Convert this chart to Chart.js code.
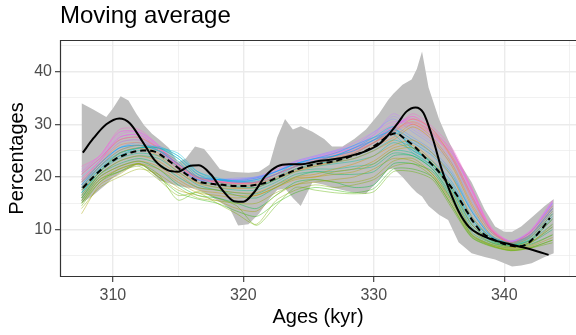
<!DOCTYPE html>
<html>
<head>
<meta charset="utf-8">
<script src="https://cdn.jsdelivr.net/npm/chart.js@4"></script>
<style>
  html, body { margin: 0; padding: 0; background: #ffffff; }
  #wrap { width: 576px; height: 335px; }
</style>
</head>
<body>
<div id="wrap"><canvas id="chart" width="576" height="335"></canvas></div>
<script>
// Sample ages (kyr) shared by every individual moving-average run
const ages = [307.6, 309, 310.5, 312, 313.5, 315, 316.5, 318, 319.5, 321, 322.5, 324, 325.5,
              327, 328.5, 330, 331.5, 333, 334.5, 336, 337.5, 339, 340.5, 342, 343.7];

// Individual runs (percentages), one array per run
const runs = [
  [20.5, 23.5, 27.0, 27.5, 25.5, 22.5, 20.0, 19.2, 18.8, 19.0, 20.5, 22.0, 23.0, 23.8, 24.5, 26.5, 29.0, 30.5, 28.5, 24.0, 16.5, 10.0, 7.6, 9.0, 14.0],
  [19.0, 22.5, 26.0, 26.5, 25.0, 22.0, 19.8, 19.0, 18.5, 18.8, 20.0, 21.5, 22.5, 23.5, 24.5, 26.5, 28.5, 31.0, 29.0, 23.5, 16.0, 9.8, 7.5, 9.5, 14.5],
  [18.0, 22.0, 25.0, 26.0, 24.5, 21.5, 19.0, 18.5, 18.0, 18.5, 19.8, 21.2, 22.2, 23.0, 24.0, 25.8, 27.5, 30.0, 27.5, 22.5, 15.0, 9.5, 7.4, 8.8, 13.5],
  [17.5, 21.0, 24.5, 25.5, 24.0, 21.0, 18.8, 18.0, 17.8, 18.0, 19.5, 21.0, 22.0, 22.8, 23.5, 25.0, 27.0, 29.5, 27.0, 22.0, 14.5, 9.0, 7.2, 8.5, 13.0],
  [16.5, 20.5, 23.0, 24.0, 23.0, 20.5, 18.0, 17.5, 17.0, 17.0, 18.5, 20.0, 20.5, 21.5, 22.5, 24.0, 26.0, 27.0, 24.5, 20.0, 12.5, 8.5, 6.8, 8.0, 12.0],
  [16.0, 20.0, 22.0, 23.0, 22.0, 19.5, 17.5, 17.0, 16.5, 16.5, 18.0, 19.8, 20.0, 21.0, 21.5, 23.0, 25.5, 26.0, 23.0, 18.0, 11.0, 8.0, 6.6, 7.5, 11.0],
  [15.5, 19.5, 21.5, 22.5, 21.5, 19.0, 17.0, 16.5, 16.0, 16.5, 18.0, 19.5, 20.0, 20.5, 21.0, 22.5, 25.0, 25.5, 22.5, 17.0, 10.0, 7.5, 6.5, 7.5, 10.5],
  [13.0, 18.5, 20.5, 22.5, 20.0, 17.5, 16.5, 15.5, 14.0, 13.5, 16.5, 18.5, 19.0, 19.5, 20.0, 21.5, 23.5, 23.0, 20.5, 15.0, 9.0, 7.0, 6.2, 6.8, 8.5],
  [14.0, 18.0, 20.0, 21.5, 20.5, 18.0, 16.0, 15.5, 15.0, 15.0, 17.0, 18.5, 19.5, 19.0, 19.0, 20.0, 23.0, 23.5, 20.5, 15.5, 9.2, 7.2, 6.3, 7.0, 9.0],
  [15.0, 19.0, 21.0, 22.0, 19.5, 16.5, 17.0, 15.0, 13.0, 11.0, 15.5, 17.5, 18.5, 18.0, 18.5, 19.5, 22.0, 22.5, 20.0, 14.5, 8.8, 7.0, 6.0, 6.5, 8.0],
  [14.5, 19.0, 21.5, 22.5, 20.5, 15.6, 17.2, 16.0, 14.5, 10.8, 14.5, 18.0, 17.5, 17.0, 16.8, 17.2, 21.0, 21.0, 19.5, 14.0, 8.5, 6.8, 6.0, 6.5, 7.5],
  [15.0, 19.5, 21.0, 22.5, 20.0, 17.0, 15.8, 15.0, 13.5, 12.5, 15.0, 17.0, 18.0, 17.5, 17.0, 17.8, 21.5, 21.5, 20.0, 14.5, 8.6, 6.9, 6.1, 6.6, 8.0],
  [15.5, 20.0, 22.0, 23.0, 21.5, 18.5, 16.5, 16.0, 15.0, 14.0, 16.5, 19.0, 19.5, 19.0, 18.0, 18.5, 22.5, 22.5, 21.0, 15.5, 9.0, 7.2, 6.5, 7.2, 9.0],
  [16.0, 20.5, 22.5, 23.5, 22.5, 20.0, 18.0, 17.5, 16.5, 16.0, 18.0, 20.0, 21.0, 20.5, 20.5, 21.0, 24.0, 24.0, 21.5, 16.0, 9.5, 7.5, 6.8, 7.5, 10.0],
  [16.0, 20.5, 23.0, 24.0, 23.5, 21.0, 18.5, 17.5, 17.0, 16.8, 18.5, 20.5, 21.0, 21.0, 21.5, 22.0, 24.5, 24.0, 21.5, 16.5, 10.0, 7.6, 6.8, 7.6, 10.5],
  [16.5, 21.0, 23.5, 24.5, 24.0, 22.0, 19.0, 18.0, 17.5, 17.5, 19.0, 21.0, 21.5, 21.5, 22.0, 22.5, 25.0, 24.5, 22.0, 17.0, 10.5, 7.8, 7.0, 8.0, 11.0],
  [17.0, 21.0, 24.0, 25.0, 25.0, 23.0, 19.5, 18.5, 18.0, 18.0, 19.5, 21.5, 22.0, 22.5, 23.0, 24.0, 26.5, 25.0, 22.5, 17.5, 11.0, 8.0, 7.0, 8.0, 12.0],
  [17.0, 21.0, 24.5, 25.5, 25.5, 23.5, 20.0, 18.5, 18.2, 18.0, 19.5, 21.5, 22.5, 22.8, 23.5, 25.0, 27.0, 25.5, 22.5, 17.5, 11.0, 8.0, 7.0, 8.0, 12.0],
  [17.5, 21.5, 24.5, 25.5, 25.5, 24.0, 20.5, 19.0, 18.5, 18.5, 19.5, 21.5, 22.5, 23.0, 24.0, 25.5, 28.5, 25.5, 22.5, 18.0, 11.5, 8.2, 7.2, 8.2, 12.5],
  [18.0, 21.5, 24.0, 25.5, 25.5, 24.5, 21.0, 19.5, 19.0, 19.0, 20.0, 22.0, 23.0, 24.0, 25.0, 27.0, 28.0, 24.5, 22.0, 18.0, 12.0, 8.5, 7.2, 8.5, 13.0],
  [18.0, 22.0, 24.5, 25.5, 25.8, 24.0, 21.0, 19.8, 19.2, 19.2, 20.5, 22.0, 23.0, 23.5, 24.5, 26.5, 29.0, 25.5, 22.5, 18.5, 12.0, 8.5, 7.3, 8.6, 13.0],
  [18.5, 22.0, 25.0, 26.0, 25.5, 23.5, 20.5, 19.5, 19.0, 19.5, 20.5, 22.5, 23.0, 24.0, 25.5, 27.5, 29.5, 25.0, 23.0, 19.0, 12.5, 8.6, 7.4, 8.8, 13.5],
  [19.0, 22.5, 25.5, 26.0, 25.0, 22.5, 20.0, 19.5, 19.2, 19.5, 21.0, 22.5, 23.5, 24.5, 26.0, 27.5, 28.5, 26.5, 24.0, 20.0, 13.5, 8.8, 7.5, 9.0, 14.0],
  [18.5, 22.5, 25.5, 26.0, 25.0, 22.5, 20.0, 19.5, 19.3, 19.8, 21.0, 22.5, 23.5, 24.0, 25.5, 27.0, 29.0, 27.0, 24.5, 20.5, 13.5, 8.8, 7.5, 9.0, 14.0],
  [18.0, 22.0, 25.5, 26.5, 25.0, 22.0, 19.5, 19.5, 19.5, 20.0, 21.0, 22.5, 23.5, 24.0, 25.0, 27.0, 29.5, 27.5, 25.0, 21.0, 14.0, 9.0, 7.5, 9.0, 14.5],
  [20.0, 23.0, 26.5, 27.0, 25.0, 22.0, 19.5, 19.5, 19.8, 20.0, 21.0, 23.0, 24.0, 25.0, 26.0, 28.5, 31.0, 28.5, 26.0, 22.5, 15.5, 9.5, 7.8, 9.5, 15.0],
  [20.5, 23.5, 27.0, 27.5, 25.0, 21.5, 19.5, 19.5, 19.6, 19.8, 21.0, 22.8, 23.8, 24.8, 25.8, 28.0, 31.5, 29.0, 26.5, 23.0, 16.0, 9.6, 7.7, 9.5, 15.0],
  [21.0, 23.5, 27.5, 28.0, 25.5, 21.5, 19.5, 19.5, 19.5, 19.8, 21.0, 22.5, 23.5, 24.5, 25.5, 28.0, 32.0, 29.5, 27.0, 23.5, 16.5, 9.8, 7.6, 9.5, 15.0],
  [21.5, 24.0, 28.5, 28.5, 26.0, 22.5, 20.0, 19.5, 19.5, 20.0, 21.5, 23.0, 24.0, 25.0, 26.5, 28.5, 30.5, 30.0, 27.5, 24.5, 17.0, 10.0, 7.8, 9.8, 15.5],
  [20.5, 23.5, 28.0, 28.5, 26.0, 22.0, 19.8, 19.2, 19.2, 19.8, 21.2, 22.8, 23.8, 24.8, 26.0, 28.0, 30.0, 31.0, 28.0, 24.5, 17.5, 10.0, 7.8, 9.6, 15.2],
  [19.5, 23.0, 27.5, 28.0, 25.5, 22.0, 19.5, 19.0, 19.0, 19.5, 21.0, 22.5, 23.5, 24.5, 25.5, 27.5, 29.5, 31.5, 28.5, 25.0, 17.5, 10.2, 7.7, 9.5, 15.0],
  [22.0, 24.0, 29.0, 29.0, 26.0, 22.0, 19.5, 19.0, 18.8, 19.0, 20.5, 22.0, 23.5, 24.5, 25.5, 27.0, 29.0, 32.0, 29.5, 25.5, 18.0, 10.5, 7.8, 9.8, 15.5],
  [21.0, 24.0, 28.5, 28.5, 25.8, 22.2, 19.8, 19.2, 19.0, 19.0, 20.5, 22.0, 23.2, 24.2, 25.2, 27.0, 29.2, 31.5, 29.0, 25.0, 17.8, 10.2, 7.7, 9.6, 15.0],
  [19.0, 23.0, 27.5, 28.0, 25.5, 22.5, 20.0, 19.5, 19.0, 19.0, 20.5, 22.0, 23.0, 24.0, 25.0, 27.0, 29.5, 31.0, 29.0, 24.5, 17.5, 10.0, 7.6, 9.5, 14.5],
  [18.5, 22.5, 26.5, 27.0, 25.0, 22.0, 19.5, 19.0, 18.8, 19.0, 20.5, 22.0, 23.0, 24.0, 25.0, 26.5, 28.5, 30.0, 28.0, 23.5, 16.5, 9.8, 7.5, 9.2, 14.0],
  [19.5, 23.0, 27.0, 27.5, 25.3, 22.3, 19.8, 19.1, 18.8, 19.0, 20.5, 22.0, 23.0, 23.9, 24.8, 26.5, 28.8, 30.3, 28.3, 23.8, 16.5, 9.9, 7.5, 9.1, 14.0]
];

// Envelope of the runs (grey band)
const bandAges = [307.6, 308.5, 309.5, 310.0, 310.6, 311.2, 311.8, 312.4, 313.0, 313.6, 314.3, 315.0, 315.6,
                  316.3, 317.0, 317.5, 318.2, 319.0, 319.6, 320.4, 321.2, 322.0, 322.6, 323.2, 323.8, 324.4,
                  325.3, 326.2, 326.8, 327.6, 328.5, 329.4, 330.4, 331.1, 331.5, 332.2, 332.9, 333.3, 333.7,
                  334.2, 335.0, 335.7, 336.5, 337.5, 338.5, 339.3, 340.0, 340.6, 341.3, 342.1, 343.1, 343.8];
const bandHigh = [34.0, 32.8, 31.4, 33.0, 35.3, 34.5, 32.0, 29.8, 28.2, 27.0, 25.5, 22.8, 23.5,
                  25.8, 25.3, 23.8, 21.5, 21.0, 20.9, 20.8, 21.0, 22.3, 27.5, 31.0, 29.0, 29.6,
                  28.6, 27.2, 25.8, 25.8, 27.2, 29.0, 32.0, 34.6, 35.8, 37.5, 38.5, 40.5, 43.8,
                  37.0, 31.0, 27.0, 23.0, 19.0, 13.8, 10.6, 9.6, 9.6, 10.6, 12.3, 14.5, 15.8];
const bandLow  = [15.0, 16.5, 18.6, 19.8, 20.8, 21.6, 22.2, 22.0, 20.8, 19.3, 18.8, 18.3, 18.0,
                  17.8, 17.0, 16.3, 15.3, 13.8, 10.8, 11.0, 13.0, 15.8, 17.5, 17.8, 16.0, 14.5,
                  19.0, 18.5, 18.0, 17.5, 17.0, 16.8, 19.4, 21.4, 21.6, 20.0, 18.0, 17.0, 16.3,
                  14.5, 12.8, 11.8, 7.6, 5.5, 4.8, 4.3, 3.6, 3.0, 3.2, 3.6, 4.8, 5.5];

// Mean of the runs (dashed)
const meanAges = [307.7, 308.5, 309.4, 310.2, 310.9, 311.6, 312.3, 313.2, 314.0, 314.7, 315.7, 316.5, 317.5,
                  318.4, 319.3, 320.2, 321.0, 321.7, 322.6, 323.5, 324.5, 325.5, 326.8, 328.0, 329.4, 330.4,
                  331.1, 331.7, 332.4, 333.2, 334.0, 334.8, 335.5, 336.3, 337.0, 337.6, 338.3, 339.2, 340.2,
                  341.0, 341.7, 342.3, 342.9, 343.5];
const meanPct  = [17.9, 20.0, 22.0, 23.4, 24.2, 24.8, 25.0, 24.8, 23.6, 22.3, 20.4, 19.2, 18.7,
                  18.5, 18.3, 18.3, 18.5, 18.9, 19.9, 20.8, 21.8, 22.4, 22.9, 23.7, 25.0, 26.5,
                  27.8, 28.3, 27.2, 25.6, 23.5, 21.5, 19.4, 16.8, 14.0, 11.6, 9.4, 8.1, 7.1,
                  6.8, 7.2, 8.5, 10.2, 12.2];

// Smoothed reference record (solid black)
const smoothAges = [307.7, 308.5, 309.5, 310.5, 311.3, 312.2, 313.2, 314.2, 315.0, 315.8, 316.6, 317.5, 318.4,
                    319.3, 320.0, 320.8, 321.7, 322.6, 323.5, 324.5, 325.5, 326.8, 328.2, 329.4, 330.4, 331.2,
                    331.9, 332.5, 333.2, 333.8, 334.5, 335.2, 335.8, 336.5, 337.3, 338.2, 339.2, 340.3, 341.5,
                    342.5, 343.4];
const smoothPct  = [24.6, 27.3, 30.0, 31.1, 30.2, 27.0, 23.2, 21.3, 21.0, 22.0, 22.2, 20.5, 17.5,
                    15.4, 15.3, 17.0, 20.2, 22.0, 22.4, 22.4, 22.9, 23.3, 24.0, 24.9, 26.2, 28.2,
                    30.4, 32.4, 33.2, 32.2, 27.5, 21.5, 17.5, 13.5, 10.5, 9.0, 8.0, 7.3, 6.6,
                    5.9, 5.2];

// Axis ticks and labels
const xGrid = [310, 315, 320, 325, 330, 335, 340, 345];
const xLabels = [310, 320, 330, 340];
const yGrid = [5, 10, 15, 20, 25, 30, 35, 40, 45];
const yLabels = [10, 20, 30, 40];

// ggplot-style hue palette (HCL, c = 100, l = 65)
function hcl(h, c, l, alpha) {
  const hr = h * Math.PI / 180;
  const u = c * Math.cos(hr), v = c * Math.sin(hr);
  const Xn = 95.047, Yn = 100, Zn = 108.883;
  const den = Xn + 15 * Yn + 3 * Zn;
  const un = 4 * Xn / den, vn = 9 * Yn / den;
  const Y = Yn * Math.pow((l + 16) / 116, 3);
  const up = u / (13 * l) + un, vp = v / (13 * l) + vn;
  const X = Y * 9 * up / (4 * vp);
  const Z = Y * (12 - 3 * up - 20 * vp) / (4 * vp);
  const x = X / 100, y = Y / 100, z = Z / 100;
  const lin = [
    3.2404542 * x - 1.5371385 * y - 0.4985314 * z,
    -0.9692660 * x + 1.8760108 * y + 0.0415560 * z,
    0.0556434 * x - 0.2040259 * y + 1.0572252 * z
  ];
  const rgb = lin.map(t => {
    const g = t <= 0.0031308 ? 12.92 * t : 1.055 * Math.pow(t, 1 / 2.4) - 0.055;
    return Math.round(Math.max(0, Math.min(1, g)) * 255);
  });
  return `rgba(${rgb[0]},${rgb[1]},${rgb[2]},${alpha})`;
}

const pts = (xs, ys) => xs.map((x, i) => ({ x, y: ys[i] }));

const datasets = [];
datasets.push({
  label: 'smooth', data: pts(smoothAges, smoothPct), borderColor: '#000000', borderWidth: 2,
  pointRadius: 0, fill: false, cubicInterpolationMode: 'monotone', order: 1
});
datasets.push({
  label: 'mean', data: pts(meanAges, meanPct), borderColor: '#000000', borderWidth: 2,
  borderDash: [6, 4], pointRadius: 0, fill: false, cubicInterpolationMode: 'monotone', order: 2
});
runs.forEach((r, i) => {
  datasets.push({
    label: 'run' + (i + 1), data: pts(ages, r),
    borderColor: hcl(15 + 360 * i / runs.length, 100, 65, 0.55), borderWidth: 0.8,
    pointRadius: 0, fill: false, tension: 0.25, order: 10
  });
});
datasets.push({
  label: 'bandHigh', data: pts(bandAges, bandHigh), borderWidth: 0, borderColor: 'rgba(0,0,0,0)',
  pointRadius: 0, fill: false, order: 100
});
datasets.push({
  label: 'bandLow', data: pts(bandAges, bandLow), borderWidth: 0, borderColor: 'rgba(0,0,0,0)',
  backgroundColor: '#BEBEBE', pointRadius: 0, fill: '-1', order: 100
});

// Panel frame drawn over the data: top, left and bottom edges
const panelFrame = {
  id: 'panelFrame',
  afterDatasetsDraw(chart) {
    const { ctx, chartArea: a } = chart;
    ctx.save();
    ctx.strokeStyle = '#333333';
    ctx.lineWidth = 1.2;
    ctx.beginPath();
    ctx.moveTo(a.right + 2, a.top + 0.5);
    ctx.lineTo(a.left + 0.5, a.top + 0.5);
    ctx.lineTo(a.left + 0.5, a.bottom - 0.5);
    ctx.lineTo(a.right + 2, a.bottom - 0.5);
    ctx.stroke();
    ctx.restore();
  }
};

Chart.defaults.font.family = "'Liberation Sans', Arial, sans-serif";

const isMajor = (list, v) => list.includes(v);

new Chart(document.getElementById('chart'), {
  type: 'line',
  data: { datasets },
  plugins: [panelFrame],
  options: {
    responsive: false,
    animation: false,
    devicePixelRatio: 1,
    layout: { padding: { left: 0, right: 0, top: 0, bottom: 0 } },
    plugins: {
      legend: { display: false },
      tooltip: { enabled: false },
      title: {
        display: true, text: 'Moving average', align: 'start', fullSize: false,
        color: '#000000', font: { size: 24, weight: 'normal' },
        padding: { top: 2, bottom: 9.2 }
      }
    },
    scales: {
      x: {
        type: 'linear', min: 305.95, max: 345.5,
        afterBuildTicks: s => { s.ticks = xGrid.map(v => ({ value: v })); },
        afterFit: s => { s.height = 58; },
        border: { display: false },
        grid: {
          color: '#EBEBEB',
          lineWidth: c => (c.tick && isMajor(xLabels, c.tick.value)) ? 1.4 : 0.7,
          tickColor: c => (c.tick && isMajor(xLabels, c.tick.value)) ? '#333333' : 'rgba(0,0,0,0)',
          tickLength: 5, tickWidth: 1.1
        },
        ticks: {
          autoSkip: false, maxRotation: 0, padding: 4, color: '#4D4D4D', font: { size: 16 },
          callback: v => isMajor(xLabels, v) ? String(v) : ''
        },
        title: {
          display: true, text: 'Ages (kyr)', color: '#000000', font: { size: 20 },
          padding: { top: 0, bottom: 6 }
        }
      },
      y: {
        type: 'linear', min: 1.0, max: 46.0,
        afterBuildTicks: s => { s.ticks = yGrid.map(v => ({ value: v })); },
        afterFit: s => { s.width = 60; },
        border: { display: false },
        grid: {
          color: '#EBEBEB',
          lineWidth: c => (c.tick && isMajor(yLabels, c.tick.value)) ? 1.4 : 0.7,
          tickColor: c => (c.tick && isMajor(yLabels, c.tick.value)) ? '#333333' : 'rgba(0,0,0,0)',
          tickLength: 5, tickWidth: 1.1
        },
        ticks: {
          autoSkip: false, padding: 3, color: '#4D4D4D', font: { size: 16 },
          callback: v => isMajor(yLabels, v) ? String(v) : ''
        },
        title: {
          display: true, text: 'Percentages', color: '#000000', font: { size: 20 },
          padding: { top: 5, bottom: 0 }
        }
      }
    }
  }
});
</script>
</body>
</html>
